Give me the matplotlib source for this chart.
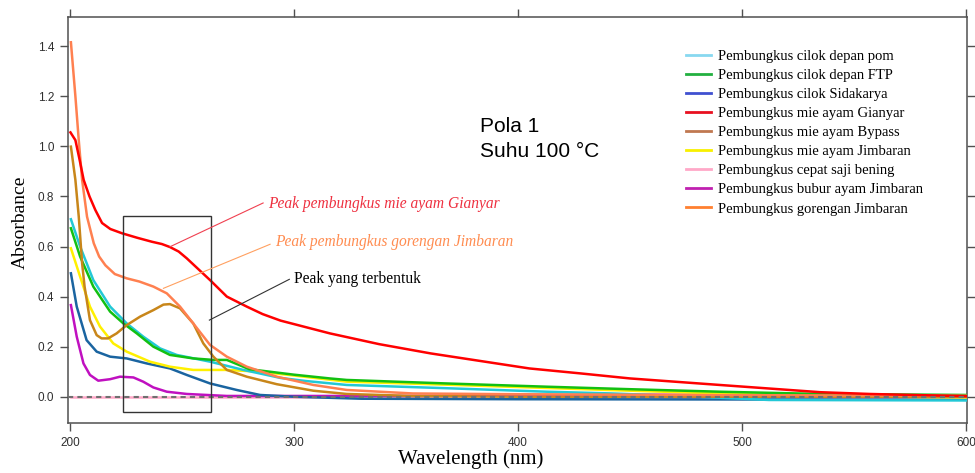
import matplotlib
matplotlib.use('Agg')
import matplotlib.pyplot as plt
from matplotlib.lines import Line2D
from matplotlib.patches import Rectangle

# %% Data (wavelength in nm, absorbance).
labels = ['Pembungkus cilok depan pom', 'Pembungkus cilok depan FTP',
          'Pembungkus cilok Sidakarya', 'Pembungkus mie ayam Gianyar',
          'Pembungkus mie ayam Bypass', 'Pembungkus mie ayam Jimbaran',
          'Pembungkus cepat saji bening', 'Pembungkus bubur ayam Jimbaran',
          'Pembungkus gorengan Jimbaran']

wl_pom = [200.4, 204.5, 210.4, 217.9, 225.3, 232.7, 240.2, 247.6, 262.5, 277.4,
          294, 305, 323.5, 368, 412.8, 442, 480, 512, 600]
ab_pom = [0.709, 0.6, 0.466, 0.36, 0.293, 0.24, 0.193, 0.167, 0.14, 0.107,
          0.075, 0.063, 0.047, 0.034, 0.02, 0.013, 0.0, -0.013, -0.015]

wl_ftp = [200.4, 204.5, 210.4, 217.9, 223.8, 229.8, 237.2, 244.6, 255, 264, 270,
          280, 300, 316, 323.5, 368, 412.8, 450, 490, 535, 600]
ab_ftp = [0.673, 0.56, 0.44, 0.34, 0.293, 0.253, 0.2, 0.167, 0.153, 0.147, 0.147,
          0.11, 0.088, 0.073, 0.067, 0.053, 0.04, 0.03, 0.02, 0.011, 0.007]

wl_sid = [200.4, 203, 207.4, 211.9, 217.9, 225.3, 234.2, 244.6, 252.1, 262.5,
          274.4, 284.8, 299.7, 330, 400, 600]
ab_sid = [0.493, 0.36, 0.226, 0.18, 0.16, 0.153, 0.133, 0.113, 0.087, 0.053,
          0.027, 0.007, 0.0, -0.008, -0.01, -0.012]

wl_gia = [200.2, 202.4, 204.2, 206.1, 208.7, 211.3, 214.3, 218, 223.2, 230, 236.6,
          241, 244.6, 248.5, 252.1, 257, 262.5, 270, 278.9, 286, 294, 316, 338,
          361, 383, 405, 428, 450, 490, 535, 557, 600]
ab_gia = [1.056, 1.025, 0.95, 0.866, 0.8, 0.746, 0.694, 0.67, 0.653, 0.635, 0.619,
          0.61, 0.598, 0.58, 0.553, 0.512, 0.466, 0.4, 0.36, 0.33, 0.304, 0.253,
          0.21, 0.173, 0.143, 0.113, 0.093, 0.073, 0.047, 0.018, 0.011, 0.002]

wl_byp = [200.4, 202.4, 203.9, 205.4, 206.5, 208.9, 211.9, 214.1, 217, 220.8,
          225.3, 231.3, 237.2, 241.7, 244.6, 249.1, 255, 259.5, 264, 270, 278.9,
          292.3, 308.6, 323.5, 353, 400, 600]
ab_byp = [0.999, 0.866, 0.72, 0.533, 0.44, 0.306, 0.246, 0.233, 0.233, 0.253,
          0.286, 0.32, 0.346, 0.368, 0.37, 0.353, 0.293, 0.213, 0.16, 0.107, 0.08,
          0.05, 0.024, 0.011, 0.003, 0.0, 0.0]

wl_jim = [200.4, 204.5, 208.9, 213.4, 219.3, 225.3, 235.7, 244.6, 255, 270, 284.8,
          299.7, 323.5, 368, 450, 490, 535, 600]
ab_jim = [0.593, 0.48, 0.36, 0.28, 0.213, 0.18, 0.14, 0.12, 0.107, 0.107, 0.1,
          0.085, 0.06, 0.048, 0.024, 0.013, 0.003, -0.003]

wl_cep = [200.4, 250, 300, 400, 600]
ab_cep = [0.0, 0.0, 0.0, 0.0, 0.0]

wl_bub = [200.4, 203, 206, 208.9, 212.6, 217.9, 222.3, 228.3, 232.7, 237.2, 243.2,
          252.1, 270, 350, 450, 600]
ab_bub = [0.366, 0.24, 0.133, 0.087, 0.064, 0.07, 0.08, 0.077, 0.06, 0.037, 0.02,
          0.011, 0.003, 0.003, 0.008, 0.005]

wl_gor = [200.4, 202.4, 203.9, 205.4, 207.6, 210.6, 213, 215.8, 220, 225.3, 231,
          237.2, 243.2, 249.1, 255, 262.5, 270, 278.9, 292.3, 308.6, 323.5, 353,
          400, 450, 500, 600]
ab_gor = [1.416, 1.2, 1.025, 0.866, 0.719, 0.613, 0.56, 0.525, 0.49, 0.473, 0.46,
          0.44, 0.413, 0.36, 0.293, 0.207, 0.16, 0.12, 0.08, 0.047, 0.027, 0.013,
          0.01, 0.008, 0.006, 0.004]

series = [(wl_pom, ab_pom), (wl_ftp, ab_ftp), (wl_sid, ab_sid), (wl_gia, ab_gia),
          (wl_byp, ab_byp), (wl_jim, ab_jim), (wl_cep, ab_cep), (wl_bub, ab_bub),
          (wl_gor, ab_gor)]

# Curve colours and (slightly different) legend colours, as in the original figure.
line_colours = ['#22C8D6', '#12C012', '#1A64A0', '#FF0000', '#C8861A',
                '#FFF000', '#FFA8C8', '#C010C0', '#FF8050']
legend_colours = ['#88D8F0', '#22B040', '#4050D0', '#E81020', '#C07850',
                  '#F8F000', '#FFA8C8', '#C020B0', '#FF8030']
draw_order = [6, 7, 2, 5, 0, 1, 4, 8, 3]

# %% Plotting.
fig = plt.figure(figsize=(9.75, 4.73), dpi=100)
ax = fig.add_axes([68 / 975, 50 / 473, 899 / 975, 406 / 473])

for i in draw_order:
    wl, ab = series[i]
    ax.plot(wl, ab, color=line_colours[i], linewidth=1.8, zorder=2 + draw_order.index(i))

# 0-line.
ax.axhline(0, color='#707070', linestyle=(0, (2.5, 2)), linewidth=1.5, zorder=20)

ax.set_xlim(199.1, 600.4)
ax.set_ylim(-0.105, 1.517)
ax.set_xticks([200, 300, 400, 500, 600])
ax.set_yticks([0.0, 0.2, 0.4, 0.6, 0.8, 1.0, 1.2, 1.4])
ax.set_yticklabels(['0.0', '0.2', '0.4', '0.6', '0.8', '1.0', '1.2', '1.4'])
ax.tick_params(direction='out', length=6, width=1, color='#505050', labelcolor='#303030',
               labelsize=8.5, top=True, right=True, pad=4)
for lab in ax.get_xticklabels() + ax.get_yticklabels():
    lab.set_family('Liberation Sans')
for sp in ax.spines.values():
    sp.set_color('#505050')
    sp.set_linewidth(1.1)

# Box around the peak region.
ax.add_patch(Rectangle((223.7, -0.061), 39.1, 0.784, fill=False,
                       edgecolor='#333333', linewidth=1, zorder=25))

# Annotations.
ax.plot([244.6, 286.2], [0.599, 0.774], color='#F04050', linewidth=0.8, zorder=26)
ax.plot([241.7, 289.3], [0.433, 0.609], color='#FFA060', linewidth=0.8, zorder=26)
ax.plot([262.2, 297.9], [0.306, 0.469], color='#333333', linewidth=0.8, zorder=26)
ax.text(288.4, 0.770, 'Peak pembungkus mie ayam Gianyar', color='#EE3040',
        style='italic', family='Liberation Serif', fontsize=11.2, va='center')
ax.text(291.5, 0.619, 'Peak pembungkus gorengan Jimbaran', color='#FF8C50',
        style='italic', family='Liberation Serif', fontsize=11.2, va='center')
ax.text(300.0, 0.470, 'Peak yang terbentuk', color='black',
        family='Liberation Serif', fontsize=11.2, va='center')

ax.text(383, 1.081, 'Pola 1', family='Liberation Sans', fontsize=15, va='center')
ax.text(383, 0.978, 'Suhu 100 °C', family='Liberation Sans', fontsize=15, va='center')

# Axis labels.
fig.text(20 / 975, 1 - 222 / 473, 'Absorbance', rotation=90, ha='center', va='center',
         family='Liberation Serif', fontsize=14)
fig.text(471 / 975, 1 - 459 / 473, 'Wavelength (nm)', ha='center', va='center',
         family='Liberation Serif', fontsize=15)

# Legend.
handles = [Line2D([], [], color=c, linewidth=2) for c in legend_colours]
ax.legend(handles, labels, loc='upper left', bbox_to_anchor=(686 / 975, 1 - 50 / 473),
          bbox_transform=fig.transFigure, frameon=False,
          prop={'family': 'Liberation Serif', 'size': 10.5},
          handlelength=1.7, handletextpad=0.5, labelspacing=0.4,
          borderpad=0, borderaxespad=0)

fig.savefig('out.png', dpi=100)
